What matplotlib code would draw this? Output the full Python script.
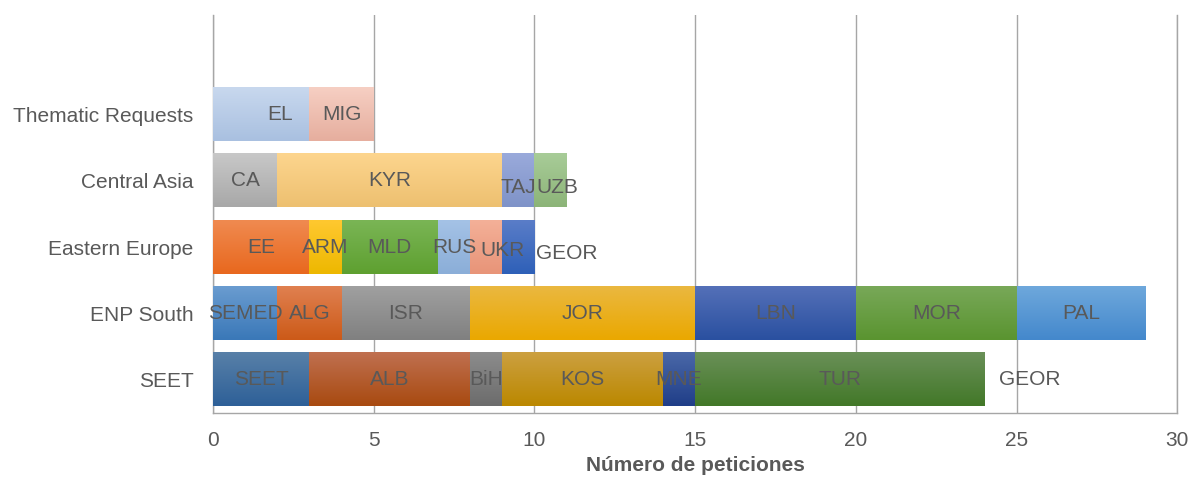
import matplotlib
matplotlib.use("Agg")
import matplotlib.pyplot as plt
import matplotlib.colors as mcolors
import numpy as np

plt.rcParams['font.family'] = ['Liberation Sans', 'DejaVu Sans']

# categories, bottom to top
categories = ["SEET", "ENP South", "Eastern Europe", "Central Asia", "Thematic Requests"]

seet_labels = ["SEET", "ALB", "BiH", "KOS", "MNE", "TUR", "GEOR"]
seet_values = [3, 5, 1, 5, 1, 9, 0]

enp_labels = ["SEMED", "ALG", "ISR", "JOR", "LBN", "MOR", "PAL"]
enp_values = [2, 2, 4, 7, 5, 5, 4]

ee_labels = ["EE", "ARM", "MLD", "RUS", "UKR", "GEOR"]
ee_values = [3, 1, 3, 1, 1, 1]

ca_labels = ["CA", "KYR", "TAJ", "UZB"]
ca_values = [2, 7, 1, 1]

them_labels = ["EL", "MIG"]
them_values = [3, 2]

groups = [
    (seet_labels, seet_values),
    (enp_labels, enp_values),
    (ee_labels, ee_values),
    (ca_labels, ca_values),
    (them_labels, them_values),
]

# gradient colours (top, bottom) for each segment
colors = [
    [("#5880a8", "#2e6098"), ("#c07050", "#a84a10"), ("#8c8c8c", "#6c6c6c"),
     ("#cca040", "#bb8800"), ("#4a68a8", "#203e88"), ("#6a9058", "#427828"),
     ("#ffffff", "#ffffff")],
    [("#6a9cd0", "#3a78b8"), ("#e08050", "#cc5a18"), ("#a0a0a0", "#808080"),
     ("#eab840", "#eaa800"), ("#5470b8", "#2a50a0"), ("#78a858", "#5a9430"),
     ("#6ea8dc", "#4488cc")],
    [("#f08a50", "#e8681e"), ("#ffc830", "#edb800"), ("#7ab555", "#5ea030"),
     ("#a4c2e6", "#8baed8"), ("#f4b098", "#e89478"), ("#5a7dc8", "#2e60b8")],
    [("#c8c8c8", "#a8a8a8"), ("#fdd58e", "#edc070"), ("#9aaadb", "#7f93c8"),
     ("#a8cc98", "#8cb478")],
    [("#c8d8ee", "#a9c0e0"), ("#f6cfc3", "#e6ae9e")],
]

# label nudges (data units) where the original shifted overlapping labels
nudges = {
    (0, "GEOR"): (1.4, 0.0),
    (2, "UKR"): (0.5, -0.05),
    (2, "GEOR"): (1.5, -0.1),
    (3, "TAJ"): (0.0, -0.1),
    (3, "UZB"): (0.2, -0.1),
    (4, "EL"): (0.6, 0.0),
}

fig = plt.figure(figsize=(11.9, 4.79), dpi=100)
ax = fig.add_axes([0.179, 0.1378, 0.8103, 0.831])

bar_h = 0.8
text_color = "#595959"
line_color = "#a6a6a6"

for gi, (labels, values) in enumerate(groups):
    lefts = np.concatenate([[0], np.cumsum(values)[:-1]])
    ax.barh([gi] * len(values), values, left=lefts, height=bar_h,
            color="none", edgecolor="none", zorder=3)
    for si, (lab, val, left) in enumerate(zip(labels, values, lefts)):
        top_c, bot_c = colors[gi][si]
        if val > 0:
            c0 = np.array(mcolors.to_rgb(top_c))
            c1 = np.array(mcolors.to_rgb(bot_c))
            t = np.linspace(0, 1, 64)[:, None]
            grad = (c0 * (1 - t) + c1 * t)[:, None, :]
            ax.imshow(grad, extent=(left, left + val, gi - bar_h / 2, gi + bar_h / 2),
                      origin="upper", aspect="auto", interpolation="bilinear", zorder=3)
        dx, dy = nudges.get((gi, lab), (0.0, 0.0))
        ax.text(left + val / 2 + dx, gi + dy, lab, ha="center", va="center",
                fontsize=15, color=text_color, zorder=5)

ax.set_xlim(0, 30)
ax.set_ylim(-0.5, 5.5)
ax.set_yticks(range(len(categories)))
ax.set_yticklabels(categories, fontsize=15, color=text_color)
ax.set_xticks(range(0, 31, 5))
ax.tick_params(axis="x", labelsize=15, labelcolor=text_color, length=0, pad=13)
ax.tick_params(axis="y", length=0, pad=14)
ax.grid(axis="x", color=line_color, linewidth=1.0, zorder=0)
ax.set_axisbelow(True)
ax.spines["top"].set_visible(False)
for s in ["left", "bottom", "right"]:
    ax.spines[s].set_color(line_color)
    ax.spines[s].set_linewidth(1.0)
ax.set_xlabel("Número de peticiones", fontsize=15, fontweight="bold",
              color=text_color, labelpad=4)

fig.savefig("out.png", dpi=100)
